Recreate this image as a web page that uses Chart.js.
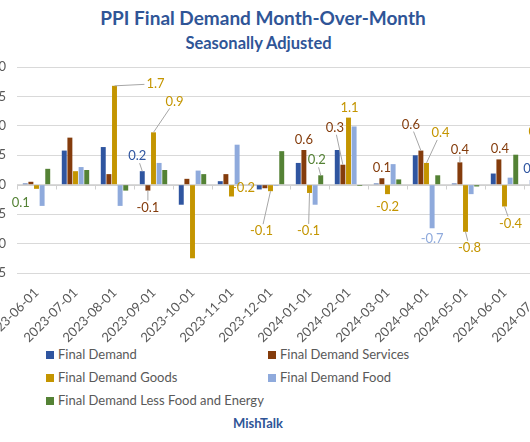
<!DOCTYPE html>
<html>
<head>
<meta charset="utf-8">
<script src="https://cdn.jsdelivr.net/npm/chart.js@4"></script>
<style>
body { margin:0; width:530px; height:442px; overflow:hidden; background:#fff; position:relative; font-family:Lato, sans-serif; }
#title { position:absolute; left:0; width:526px; top:6px; text-align:center; color:#2F5597; font-weight:bold; font-size:19px; }
#subtitle { position:absolute; left:0; width:517px; top:33px; text-align:center; color:#2F5597; font-weight:bold; font-size:16.5px; }
#c { position:absolute; left:-40px; top:0; }
.item { position:absolute; color:#595959; font-size:13px; line-height:16px; white-space:nowrap; }
.item span { display:inline-block; width:8px; height:8px; margin-right:4px; vertical-align:0px; }
#foot { position:absolute; left:0; width:516px; top:415px; text-align:center; color:#2F5597; font-weight:bold; font-size:13px; }
</style>
</head>
<body>
<div id="title">PPI Final Demand Month-Over-Month</div>
<div id="subtitle">Seasonally Adjusted</div>
<canvas id="c" width="620" height="345"></canvas>
<div id="legend"></div>
<div id="foot">MishTalk</div>
<script>
var categories = ['2023-06-01', '2023-07-01', '2023-08-01', '2023-09-01', '2023-10-01', '2023-11-01', '2023-12-01',
                  '2024-01-01', '2024-02-01', '2024-03-01', '2024-04-01', '2024-05-01', '2024-06-01', '2024-07-01'];
var seriesNames = ['Final Demand', 'Final Demand Services', 'Final Demand Goods', 'Final Demand Food', 'Final Demand Less Food and Energy'];
var seriesColors = ['#2F55A0', '#843C0C', '#C49500', '#8FAADC', '#548235'];

var finalDemand = [0.02, 0.58, 0.64, 0.23, -0.34, 0.06, -0.08, 0.37, 0.59, 0.02, 0.50, 0.02, 0.19, 0.08];
var services    = [0.05, 0.80, 0.18, -0.10, 0.10, 0.18, -0.06, 0.59, 0.34, 0.11, 0.58, 0.38, 0.43, -0.20];
var goods       = [-0.07, 0.23, 1.68, 0.89, -1.25, -0.20, -0.11, -0.14, 1.14, -0.16, 0.37, -0.80, -0.37, 0.60];
var food        = [-0.36, 0.30, -0.36, 0.37, 0.24, 0.68, -0.02, -0.34, 0.99, 0.35, -0.74, -0.16, 0.12, 0.05];
var lessFoodEnergy = [0.27, 0.25, -0.10, 0.25, 0.18, 0.00, 0.57, 0.16, -0.02, 0.09, 0.16, -0.03, 0.51, 0.30];

var yTicks = [-1.5, -1.0, -0.5, 0.0, 0.5, 1.0, 1.5, 2.0];

// excel style callouts: series, category, offset from the bar end, leader line
var callouts = [
  {s:2, i:2, dx:41, dy:-2, l:1},
  {s:2, i:3, dx:21, dy:-31, l:1},
  {s:0, i:3, dx:-5, dy:-15, l:1},
  {s:1, i:3, dx:0, dy:17, l:1},
  {s:2, i:5, dx:12, dy:-9},
  {s:2, i:6, dx:-9, dy:40, l:1},
  {s:1, i:7, dx:0, dy:-10},
  {s:4, i:7, dx:-4, dy:-15, l:1},
  {s:2, i:7, dx:-1, dy:38, l:1},
  {s:1, i:8, dx:-8, dy:-37, l:1},
  {s:2, i:8, dx:1, dy:-10},
  {s:1, i:9, dx:0, dy:-10},
  {s:2, i:9, dx:0, dy:13},
  {s:1, i:10, dx:-10, dy:-26, l:1},
  {s:2, i:10, dx:14, dy:-30, l:1},
  {s:3, i:10, dx:0, dy:11},
  {s:1, i:11, dx:0, dy:-13, l:1},
  {s:2, i:11, dx:4, dy:16, l:1},
  {s:1, i:12, dx:1, dy:-11},
  {s:2, i:12, dx:6, dy:17, l:1},
  {s:0, i:13, dx:0, dy:-11},
  {s:2, i:13, dx:-6, dy:-18},
  {s:4, i:0, dx:-27, dy:34, text:'0.1'}
];

var zeroAxis = {
  id: 'zeroAxis',
  beforeDatasetsDraw: function(chart) {
    var ctx = chart.ctx;
    var area = chart.chartArea;
    var y0 = Math.round(chart.scales.y.getPixelForValue(0)) + 0.5;
    var step = (area.right - area.left) / categories.length;
    ctx.save();
    ctx.strokeStyle = '#D0D0D0';
    ctx.lineWidth = 1;
    ctx.beginPath();
    ctx.moveTo(area.left, y0);
    ctx.lineTo(area.right, y0);
    for (var i = 0; i <= categories.length; i++) {
      var px = Math.round(area.left + i * step) + 0.5;
      ctx.moveTo(px, y0);
      ctx.lineTo(px, y0 + 4);
    }
    ctx.stroke();
    ctx.restore();
  }
};

var calloutLabels = {
  id: 'calloutLabels',
  afterDatasetsDraw: function(chart) {
    var ctx = chart.ctx;
    ctx.save();
    ctx.font = '13px Lato';
    ctx.textAlign = 'center';
    ctx.textBaseline = 'middle';
    callouts.forEach(function(c) {
      var bar = chart.getDatasetMeta(c.s).data[c.i];
      var val = chart.data.datasets[c.s].data[c.i];
      var txt = c.text || val.toFixed(1);
      var lx = bar.x + c.dx, ly = bar.y + c.dy;
      if (c.l) {
        var w = ctx.measureText(txt).width / 2 + 2, h = 7;
        var ddx = bar.x - lx, ddy = bar.y - ly;
        var kx = ddx !== 0 ? w / Math.abs(ddx) : Infinity;
        var ky = ddy !== 0 ? h / Math.abs(ddy) : Infinity;
        var k = Math.min(kx, ky);
        ctx.strokeStyle = '#A6A6A6';
        ctx.lineWidth = 1;
        ctx.beginPath();
        ctx.moveTo(bar.x, bar.y);
        ctx.lineTo(lx + ddx * k, ly + ddy * k);
        ctx.stroke();
      }
      ctx.fillStyle = seriesColors[c.s];
      ctx.fillText(txt, lx, ly);
    });
    ctx.restore();
  }
};

var seriesData = [finalDemand, services, goods, food, lessFoodEnergy];
var datasets = [];
for (var k = 0; k < seriesNames.length; k++) {
  datasets.push({ label: seriesNames[k], data: seriesData[k], backgroundColor: seriesColors[k], borderWidth: 0 });
}

var chart = new Chart(document.getElementById('c').getContext('2d'), {
  type: 'bar',
  data: { labels: categories, datasets: datasets },
  options: {
    responsive: false,
    animation: false,
    layout: { padding: { top: 67, right: 17, left: 0, bottom: 0 } },
    datasets: { bar: { categoryPercentage: 0.72, barPercentage: 0.88 } },
    plugins: { legend: { display: false }, title: { display: false }, tooltip: { enabled: false } },
    scales: {
      x: {
        grid: { display: false },
        border: { display: false },
        ticks: { autoSkip: false, minRotation: 45, maxRotation: 45, color: '#595959', font: { family: 'Lato', size: 13 }, padding: 4 },
        afterFit: function(s) { s.height = 72; }
      },
      y: {
        min: yTicks[0],
        max: yTicks[yTicks.length - 1],
        afterBuildTicks: function(s) { s.ticks = yTicks.map(function(v) { return { value: v }; }); },
        ticks: { color: '#595959', font: { family: 'Lato', size: 13 }, padding: 11, callback: function(v) { return v.toFixed(1); } },
        grid: { color: '#D9D9D9', drawTicks: false },
        border: { display: false },
        afterFit: function(s) { s.width = 57; }
      }
    }
  },
  plugins: [zeroAxis, calloutLabels]
});

// legend in two columns like the original
var legendPos = [[46, 346], [268, 346], [46, 369], [268, 369], [46, 392]];
var legend = document.getElementById('legend');
for (var j = 0; j < seriesNames.length; j++) {
  var d = document.createElement('div');
  d.className = 'item';
  d.style.left = legendPos[j][0] + 'px';
  d.style.top = legendPos[j][1] + 'px';
  d.innerHTML = '<span style="background:' + seriesColors[j] + '"></span>' + seriesNames[j];
  legend.appendChild(d);
}
</script>
</body>
</html>
